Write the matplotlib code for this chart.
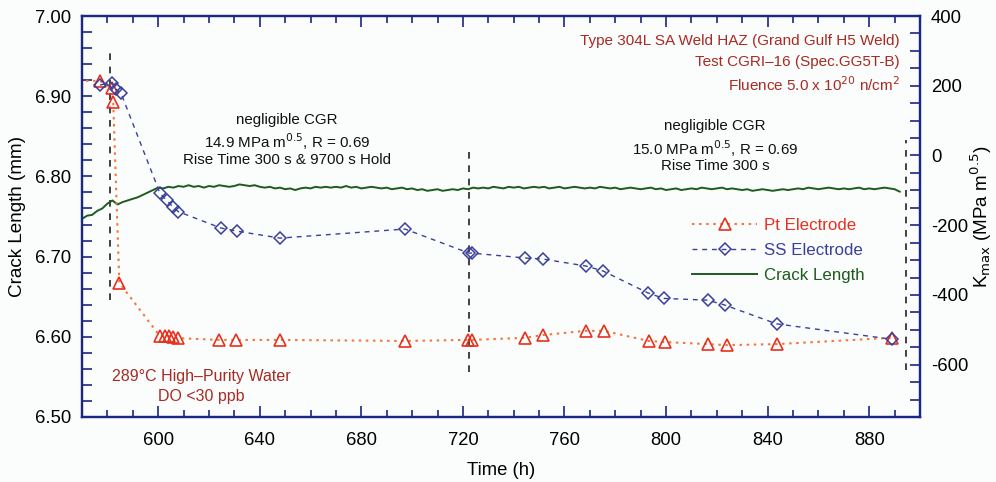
import matplotlib as mpl
mpl.use("Agg")
import matplotlib.pyplot as plt
import numpy as np
from matplotlib.ticker import MultipleLocator, FormatStrFormatter
from matplotlib.lines import Line2D

mpl.rcParams.update({"font.family": ["Liberation Sans", "DejaVu Sans"], "axes.unicode_minus": False})
SPINE, PT, PTLINE, SS, CL, DKRED = "#1c2683", "#e8301e", "#f07a3a", "#3a3f9a", "#1f5a1f", "#a82a22"

# electrode potentials (right axis units)
pt_time = [566, 577.1, 581.7, 582.3, 584.7, 600.7, 602.7, 604.4, 606.0, 607.9, 623.9, 630.6, 648.0,
           697.2, 722.0, 723.5, 744.4, 751.5, 768.4, 775.5, 793.2, 799.5, 816.5, 823.9, 843.6, 888.9]
pt_val = [214, 214, 193, 154, -365, -518, -518, -518, -520, -524, -529, -529, -529,
          -532, -529, -529, -523, -515, -503, -503, -532, -535, -541, -544, -541, -523]
ss_time = [577.1, 581.7, 583.4, 585.4, 600.7, 603.3, 605.7, 607.9, 624.7, 631.0, 648.0, 697.2,
           722.4, 723.5, 744.4, 751.5, 768.4, 775.1, 792.8, 799.1, 816.5, 823.1, 843.6, 888.9]
ss_val = [202, 209, 190, 178, -108, -128, -147, -161, -208, -217, -237, -211,
          -280, -280, -294, -297, -317, -331, -394, -410, -415, -429, -483, -527]

# crack length trace, one reading every 2 h from 570 h
cl_time = np.arange(570, 893, 2)
cl_val = [6.747, 6.751, 6.752, 6.757, 6.760, 6.766, 6.770, 6.765, 6.768, 6.770,
          6.772, 6.774, 6.777, 6.780, 6.783, 6.786, 6.785, 6.787, 6.786, 6.788,
          6.787, 6.789, 6.787, 6.788, 6.786, 6.788, 6.787, 6.789, 6.788, 6.787,
          6.788, 6.790, 6.789, 6.788, 6.789, 6.787, 6.786, 6.787, 6.785, 6.786,
          6.784, 6.785, 6.783, 6.785, 6.786, 6.785, 6.787, 6.786, 6.787, 6.786,
          6.787, 6.786, 6.788, 6.786, 6.787, 6.785, 6.786, 6.787, 6.786, 6.785,
          6.786, 6.784, 6.785, 6.786, 6.784, 6.785, 6.783, 6.784, 6.782, 6.783,
          6.784, 6.782, 6.783, 6.784, 6.783, 6.785, 6.784, 6.786, 6.785, 6.786,
          6.785, 6.787, 6.786, 6.785, 6.787, 6.786, 6.787, 6.785, 6.786, 6.787,
          6.786, 6.787, 6.785, 6.786, 6.787, 6.785, 6.786, 6.787, 6.786, 6.785,
          6.786, 6.785, 6.787, 6.786, 6.785, 6.786, 6.784, 6.785, 6.786, 6.785,
          6.784, 6.785, 6.786, 6.784, 6.785, 6.783, 6.784, 6.785, 6.783, 6.784,
          6.785, 6.784, 6.786, 6.785, 6.784, 6.785, 6.786, 6.784, 6.785, 6.784,
          6.783, 6.784, 6.782, 6.783, 6.784, 6.783, 6.782, 6.783, 6.784, 6.783,
          6.784, 6.785, 6.784, 6.786, 6.785, 6.784, 6.785, 6.786, 6.785, 6.784,
          6.785, 6.784, 6.785, 6.786, 6.784, 6.785, 6.784, 6.785, 6.786, 6.785,
          6.784, 6.781]

# load changes (h) and extent of their markers (mm)
events = [581.0, 722.5, 894.5]
ev_lo = [6.646, 6.556, 6.559]
ev_hi = [6.955, 6.833, 6.845]

fig = plt.figure(figsize=(9.96, 4.82), dpi=100, facecolor="#fbfdfd")
ax = fig.add_axes([0.0823, 0.1349, 0.8414, 0.8319])
ax.set_facecolor("#fbfdfd")
ax2 = ax.twinx()

ax.plot(cl_time, cl_val, color=CL, lw=1.4, zorder=3)
ax.vlines(events, ev_lo, ev_hi, colors="#222222", linestyles=(0, (4, 4)), lw=1.2, zorder=2)

ax2.plot(pt_time, pt_val, ls=(0, (1.2, 2.2)), color=PTLINE, lw=1.5, marker="^", ms=9,
         mfc="none", mec=PT, mew=1.2, zorder=4)
ax2.plot(ss_time, ss_val, ls=(0, (3.5, 3.5)), color=SS, lw=1.0, marker="D", ms=6.5,
         mfc="none", mec=SS, mew=1.1, zorder=5)

ax.set_xlim(570, 900)
ax.set_ylim(6.5, 7.0)
ax2.set_ylim(-750, 400)

ax.xaxis.set_major_locator(MultipleLocator(40))
ax.xaxis.set_minor_locator(MultipleLocator(10))
ax.yaxis.set_major_locator(MultipleLocator(0.1))
ax.yaxis.set_minor_locator(MultipleLocator(0.02))
ax.yaxis.set_major_formatter(FormatStrFormatter("%.2f"))
ax2.yaxis.set_major_locator(MultipleLocator(200))
ax2.yaxis.set_minor_locator(MultipleLocator(50))

ax.tick_params(axis="x", which="both", direction="in", top=True, color=SPINE, width=1.2,
               labelsize=13.3, pad=11)
ax.tick_params(axis="x", which="major", length=8)
ax.tick_params(axis="x", which="minor", length=5)
ax.tick_params(axis="y", which="both", direction="in", right=False, color=SPINE, width=1.2,
               length=7, labelsize=13.3, pad=8)
ax2.tick_params(axis="y", which="both", direction="in", color=SPINE, width=1.2, length=7,
                labelsize=13.3, pad=8)
for a in (ax, ax2):
    for s in a.spines.values():
        s.set_color(SPINE)
        s.set_linewidth(1.6)

ax.set_xlabel("Time (h)", fontsize=13.3, labelpad=9)
ax.set_ylabel("Crack Length (mm)", fontsize=13.6, labelpad=6)
fig.text(981 / 996, 1 - 217 / 482, r"K$_{\rm max}$ (MPa m$^{0.5}$)", fontsize=13.6,
         rotation=90, ha="center", va="center")

ax.text(892, 6.969, "Type 304L SA Weld HAZ (Grand Gulf H5 Weld)", color=DKRED, fontsize=11, ha="right", va="center")
ax.text(892, 6.943, "Test CGRI\u201316 (Spec.GG5T-B)", color=DKRED, fontsize=11, ha="right", va="center")
ax.text(892, 6.914, r"Fluence 5.0 x 10$^{20}$ n/cm$^{2}$", color=DKRED, fontsize=11, ha="right", va="center")

ax.text(650.7, 6.870, "negligible CGR", fontsize=10.9, ha="center", va="center", color="#111")
ax.text(650.7, 6.843, r"14.9 MPa m$^{0.5}$, R = 0.69", fontsize=10.9, ha="center", va="center", color="#111")
ax.text(650.7, 6.820, "Rise Time 300 s & 9700 s Hold", fontsize=10.9, ha="center", va="center", color="#111")
ax.text(819.2, 6.863, "negligible CGR", fontsize=10.9, ha="center", va="center", color="#111")
ax.text(819.2, 6.834, r"15.0 MPa m$^{0.5}$, R = 0.69", fontsize=10.9, ha="center", va="center", color="#111")
ax.text(819.2, 6.813, "Rise Time 300 s", fontsize=10.9, ha="center", va="center", color="#111")

ax.text(616.9, 6.550, "289\u00b0C High\u2013Purity Water", color=DKRED, fontsize=11.5, ha="center", va="center")
ax.text(616.9, 6.525, "DO <30 ppb", color=DKRED, fontsize=11.5, ha="center", va="center")

handles = [
    Line2D([], [], ls=(0, (1.2, 2.2)), color=PTLINE, lw=1.5, marker="^", ms=9, mfc="none", mec=PT, mew=1.2),
    Line2D([], [], ls=(0, (3.5, 3.5)), color=SS, lw=1.0, marker="D", ms=6.5, mfc="none", mec=SS, mew=1.1),
    Line2D([], [], color=CL, lw=1.4),
]
leg = ax2.legend(handles, ["Pt Electrode", "SS Electrode", "Crack Length"], loc="center left",
                 bbox_to_anchor=(0.728, 0.416), frameon=False, fontsize=12.2, handlelength=3.85,
                 handletextpad=0.4, labelspacing=0.58, borderpad=0, borderaxespad=0)
for t, c in zip(leg.get_texts(), [PT, SS, CL]):
    t.set_color(c)

fig.savefig("out.png", dpi=100, facecolor=fig.get_facecolor())
